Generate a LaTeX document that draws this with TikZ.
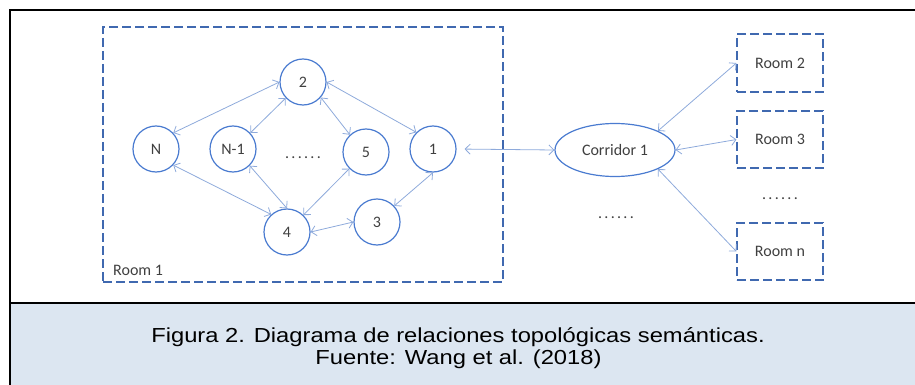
\documentclass[tikz,border=0pt]{standalone}
\usepackage{fontspec}
\setmainfont{Carlito}
\newfontfamily\capfont[FakeStretch=1.17]{Liberation Sans}
\usetikzlibrary{arrows.meta,shapes.geometric}
\definecolor{circc}{HTML}{4A7BD0}
\definecolor{linkc}{HTML}{8EAADB}
\definecolor{dashc}{HTML}{4069B0}
\definecolor{txtc}{HTML}{404040}
\definecolor{capfill}{HTML}{DCE6F1}
\newcommand\sixdots{.\kern2.3pt.\kern2.3pt.\kern2.3pt.\kern2.3pt.\kern2.3pt.}
\tikzset{
  label font/.style={font=\fontsize{16}{17}\selectfont},
  state/.style={circle, draw=circc, line width=1.2pt, minimum size=46pt, inner sep=0pt,
    text=txtc, label font},
  hall/.style={ellipse, draw=circc, line width=1.2pt, minimum width=120pt, minimum height=53pt,
    inner sep=0pt, text=txtc, label font},
  roombox/.style={rectangle, draw=dashc, line width=1.1pt, dash pattern=on 9pt off 4pt,
    inner sep=0pt, text=txtc, label font},
  link/.style={draw=linkc, line width=0.8pt, >={Straight Barb[length=5pt,width=10pt]}, <->},
  dots/.style={text=txtc, label font, inner sep=0pt},
  captext/.style={font=\capfont\fontsize{20.3}{21.5}\selectfont, anchor=base, inner sep=0pt},
}
\begin{document}
\begin{tikzpicture}[x=1pt, y=-1pt]
\useasboundingbox (0,0) rectangle (915,385);
% caption band and frame
\fill[capfill] (10,303) rectangle (915,385);
\draw[line width=2pt] (915,10) -- (10,10) -- (10,385);
\draw[line width=2pt] (10,303) -- (915,303);
\node[captext] (caption1) at (458,342.7) {Figura 2. Diagrama de relaciones topológicas semánticas.};
\node[captext] (caption2) at (458.5,364) {Fuente: Wang et al. (2018)};

% room 1 with its spaces
\node[roombox, minimum width=400pt, minimum height=255pt] (room1) at (303,154.5) {};
\node[text=txtc, label font, anchor=base west, inner sep=0pt] (room1label) at (113,275) {Room 1};

\node[state] (n2) at (303,82) {2};
\node[state] (nN) at (156,149) {N};
\node[state] (nN1) at (233,149) {N-1};
\node[state] (n5) at (366,152) {5};
\node[state] (n1) at (433,149) {1};
\node[state] (n4) at (287,232) {4};
\node[state] (n3) at (377,222) {3};
\node[dots, anchor=base] (d1) at (303,158) {\sixdots};

\draw[link] (n2.180) -- (nN.43);
\draw[link] (n2.223) -- (nN1.43);
\draw[link] (n2.319) -- (n5.133);
\draw[link] (n2.0) -- (n1.135);
\draw[link] (nN.-43) -- (n4.132);
\draw[link] (nN1.-45) -- (n4.90);
\draw[link] (n5.225) -- (n4.46);
\draw[link] (n4.0) -- (n3.180);
\draw[link] (n3.43) -- (n1.270);

% corridor and the other rooms
\node[hall] (cor) at (615,150) {Corridor 1};
\node[dots, anchor=base] (d2) at (616,218) {\sixdots};
\node[roombox, minimum width=86pt, minimum height=58pt] (r2) at (780,63) {Room 2};
\node[roombox, minimum width=86pt, minimum height=57pt] (r3) at (780,139.5) {Room 3};
\node[dots, anchor=base] (d3) at (780,199) {\sixdots};
\node[roombox, minimum width=86pt, minimum height=57pt] (rn) at (780,251.5) {Room n};

\draw[link, shorten <=8pt] (n1.0) -- (cor.180);
\draw[link] (cor.24) -- (r2.west);
\draw[link] (cor.0) -- (r3.west);
\draw[link] (cor.-24) -- (rn.west);
\end{tikzpicture}
\end{document}
